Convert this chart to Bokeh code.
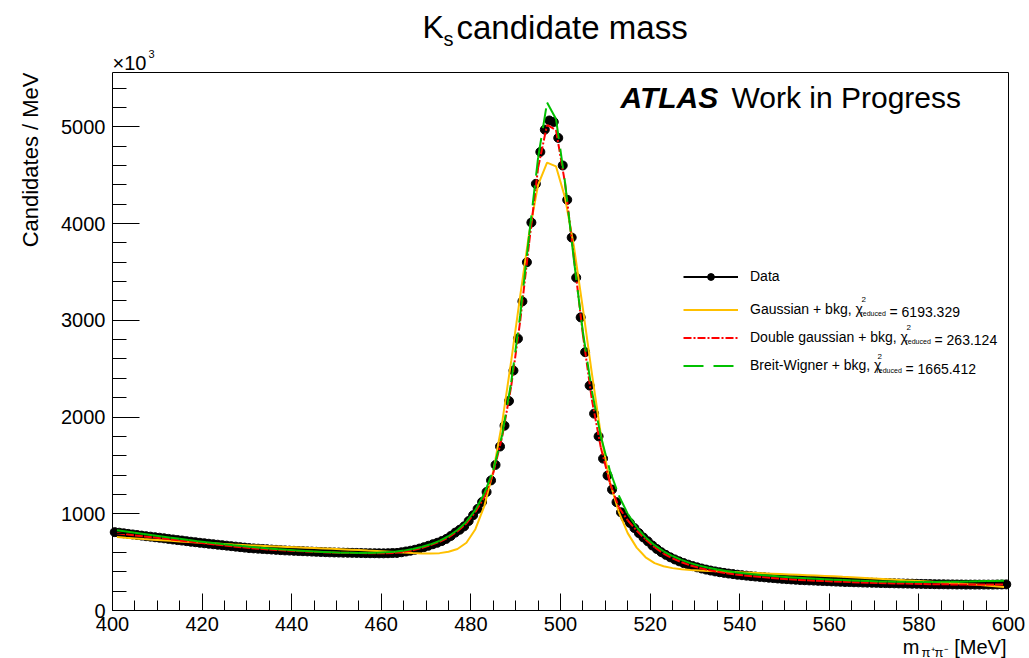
import numpy as np
from bokeh.plotting import figure
from bokeh.models import (Range1d, SingleIntervalTicker, FixedTicker, LinearAxis, Label,
                          Legend, LegendItem, ColumnDataSource)
from bokeh.embed import file_html
from bokeh.resources import INLINE

# ---------------- data ----------------
X_LO, X_HI = 400.0, 600.0
Y_LO, Y_HI = 0.0, 5561.0

bin_centers = np.arange(400.5, 600.0, 1.0)          # 1 MeV bins
data_counts = [                                     # candidates / MeV  (x10^3)
    810, 804, 798, 792, 786, 780, 774, 768, 763, 757,
    752, 746, 740, 734, 728, 723, 717, 711, 706, 700,
    695, 690, 685, 680, 675, 670, 665, 660, 655, 650,
    645, 642, 639, 636, 633, 630, 627, 624, 621, 619,
    617, 615, 613, 611, 609, 607, 605, 603, 601, 600,
    599, 598, 597, 596, 595, 594, 593, 592, 592, 591,
    591, 592, 594, 595, 602, 610, 618, 628, 640, 654,
    669, 685, 700, 718, 740, 770, 805, 835, 870, 925,
    985, 1050, 1122, 1225, 1345, 1505, 1695, 1910, 2165, 2480,
    2810, 3195, 3600, 4010, 4410, 4740, 4970, 5065, 5050, 4885,
    4600, 4245, 3855, 3440, 3030, 2670, 2325, 2035, 1800, 1570,
    1395, 1250, 1120, 1015, 960, 905, 852, 800, 755, 715,
    672, 636, 603, 575, 550, 528, 508, 490, 474, 459,
    446, 434, 423, 413, 404, 396, 389, 382, 376, 370,
    365, 360, 355, 351, 347, 343, 339, 335, 331, 327,
    324, 321, 318, 315, 313, 311, 309, 307, 305, 303,
    301, 299, 297, 295, 294, 292, 291, 289, 288, 287,
    286, 284, 283, 282, 281, 280, 279, 278, 277, 276,
    275, 274, 273, 272, 271, 271, 270, 270, 269, 269,
    268, 268, 268, 268, 268, 268, 268, 269, 269, 270,
]

curve_x = np.arange(401.0, 600.0, 2.0)               # fit functions sampled every 2 MeV
gauss_fit = [
    760, 752, 745, 738, 732, 726, 720, 714, 708, 703,
    697, 692, 687, 682, 678, 673, 669, 665, 661, 657,
    653, 649, 645, 641, 637, 633, 629, 625, 620, 616,
    611, 605, 599, 594, 590, 589, 593, 607, 636, 700,
    840, 1080, 1440, 1950, 2580, 3250, 3900, 4400, 4630, 4590,
    4270, 3760, 3120, 2450, 1820, 1330, 1020, 800, 650, 550,
    490, 457, 438, 427, 419, 414, 409, 405, 401, 397,
    393, 389, 385, 381, 377, 373, 369, 365, 361, 357,
    353, 348, 344, 339, 334, 329, 324, 319, 313, 308,
    302, 296, 290, 284, 278, 271, 265, 258, 251, 244,
]
dgauss_fit = [
    798, 787, 776, 766, 756, 746, 735, 724, 713, 702,
    692, 682, 672, 662, 653, 644, 637, 631, 625, 620,
    615, 611, 607, 603, 600, 598, 596, 594, 592, 591,
    592, 596, 606, 622, 646, 677, 709, 755, 820, 900,
    1018, 1172, 1420, 1800, 2320, 2990, 3800, 4575, 5020, 4965,
    4420, 3645, 2850, 2180, 1685, 1322, 1068, 932, 826, 735,
    654, 589, 539, 499, 466, 440, 418, 400, 385, 373,
    362, 353, 345, 337, 329, 322, 316, 312, 308, 304,
    300, 296, 293, 290, 287, 285, 282, 280, 278, 276,
    274, 272, 271, 270, 269, 268, 268, 268, 268, 269,
]
bw_fit = [
    830, 817, 804, 791, 778, 765, 753, 741, 729, 717,
    706, 695, 685, 675, 666, 657, 649, 641, 634, 627,
    621, 615, 610, 605, 601, 598, 596, 595, 595, 597,
    601, 608, 619, 635, 656, 684, 720, 768, 832, 918,
    1040, 1210, 1450, 1820, 2360, 3050, 3880, 4680, 5250, 5080,
    4430, 3620, 2880, 2270, 1800, 1450, 1190, 1000, 860, 755,
    675, 612, 563, 523, 490, 464, 442, 424, 409, 396,
    385, 375, 366, 358, 351, 344, 338, 333, 328, 323,
    319, 315, 311, 307, 304, 301, 299, 297, 296, 295,
    295, 295, 296, 297, 298, 300, 302, 304, 306, 308,
]

legend_labels = ["Data", "Gaussian + bkg, \u03c7", "Double gaussian + bkg, \u03c7", "Breit-Wigner + bkg, \u03c7"]
chi2_values = ["= 6193.329", "= 263.124", "= 1665.412"]

# ---------------- layout ----------------
W, H = 1029, 658
FL, FR, FT, FB = 112, 1008, 72, 610        # visible axes box in page pixels
FONT = "Liberation Sans"
UX = (X_HI - X_LO) / (FR - FL)             # data units per pixel
UY = (Y_HI - Y_LO) / (FB - FT)


def px2x(px):
    return X_LO + (px - FL) * UX


def px2y(py):
    return Y_LO + (FB - py) * UY


# the drawing frame covers the whole page; the visible axes box is made of axes at fixed locations
p = figure(width=W, height=H, output_backend="svg", toolbar_location=None,
           x_range=Range1d(px2x(0), px2x(W)), y_range=Range1d(px2y(H), px2y(0)),
           x_axis_location=None, y_axis_location=None,
           min_border_left=0, min_border_right=0, min_border_top=0, min_border_bottom=0)
p.background_fill_color = "white"
p.border_fill_color = "white"
p.outline_line_color = None
p.xgrid.visible = False
p.ygrid.visible = False


def style_axis(ax, mj, mn):
    ax.major_tick_in = mj
    ax.major_tick_out = 0
    ax.minor_tick_in = mn
    ax.minor_tick_out = 0
    ax.axis_line_color = "black"
    ax.axis_line_width = 1
    ax.major_tick_line_color = "black"
    ax.minor_tick_line_color = "black"
    ax.major_label_text_font = FONT
    ax.major_label_text_font_size = "20px"
    ax.major_label_text_color = "black"


xax = LinearAxis(ticker=SingleIntervalTicker(interval=20, num_minor_ticks=4),
                 fixed_location=Y_LO, bounds=(X_LO, X_HI), major_label_standoff=6)
style_axis(xax, 17, 10)
yax = LinearAxis(ticker=SingleIntervalTicker(interval=1000, num_minor_ticks=5),
                 fixed_location=X_LO, bounds=(Y_LO, Y_HI), major_label_standoff=7)
style_axis(yax, 27, 14)
tax = LinearAxis(ticker=FixedTicker(ticks=[]), fixed_location=Y_HI, bounds=(X_LO, X_HI))
style_axis(tax, 0, 0)
rax = LinearAxis(ticker=FixedTicker(ticks=[]), fixed_location=X_HI, bounds=(Y_LO, Y_HI))
style_axis(rax, 0, 0)
p.add_layout(xax, "below")
p.add_layout(yax, "left")
p.add_layout(tax, "above")
p.add_layout(rax, "right")

# ---------------- data & fits ----------------
src = ColumnDataSource(dict(x=bin_centers, y=data_counts,
                            x0=bin_centers - 0.5, x1=bin_centers + 0.5))
data_bar = p.segment(x0="x0", y0="y", x1="x1", y1="y", source=src,
                     line_color="black", line_width=2)
data_pt = p.scatter(x="x", y="y", source=src, marker="circle", size=9,
                    fill_color="black", line_color="black")

cx = np.asarray(curve_x)
g = np.asarray(gauss_fit)
dg = np.asarray(dgauss_fit)
bw = np.asarray(bw_fit)

yel = p.line(cx, g, line_color="#FFC000", line_width=2)
red = p.segment(x0=cx[:-1], y0=dg[:-1], x1=cx[1:], y1=dg[1:],
                line_color="#FF0000", line_width=2, line_dash="8 2 2 2")
grn = p.segment(x0=cx[:-1], y0=bw[:-1], x1=cx[1:], y1=bw[1:],
                line_color="#00C000", line_width=2, line_dash="20 10")

# ---------------- legends ----------------
common = dict(background_fill_alpha=0, border_line_alpha=0, padding=0, margin=0,
              glyph_width=55, label_height=21, label_standoff=12,
              label_text_font=FONT, label_text_font_size="14px", label_text_color="black")
leg_data = Legend(items=[LegendItem(label=legend_labels[0], renderers=[data_bar, data_pt])],
                  location=(683, H - 286.5), spacing=7, glyph_height=17, **common)
leg_fit = Legend(items=[LegendItem(label=legend_labels[1], renderers=[yel]),
                        LegendItem(label=legend_labels[2], renderers=[red]),
                        LegendItem(label=legend_labels[3], renderers=[grn])],
                 location=(683, H - 375.5), spacing=7, glyph_height=7, **common)
p.add_layout(leg_data)
p.add_layout(leg_fit)


def add_text(txt, cxp, cyp, size, align="left", style="normal", angle=0.0):
    """cyp is the vertical middle of the text line, in page pixels."""
    p.add_layout(Label(x=px2x(cxp), y=px2y(cyp), x_units="data", y_units="data", text=txt,
                       text_font=FONT, text_font_size=f"{size}px", text_font_style=style,
                       text_align=align, text_baseline="middle", text_color="black",
                       angle=angle))


# chi2 decorations in legend rows
rows = [(311, 860, 889), (339, 905, 934), (368, 876, 905)]
for (mid, sx, ex), val in zip(rows, chi2_values):
    add_text("2", sx + 1, mid - 12, 8)
    add_text("reduced", sx, mid + 1.5, 7)
    add_text(val, ex, mid, 14)

# titles and texts
add_text("K", 422, 26.5, 32)
add_text("s", 443, 38, 20)
add_text("candidate mass", 456, 26.5, 33)
add_text("ATLAS", 620, 96.5, 30, style="bold italic")
add_text("Work in Progress", 731, 96.5, 30)
add_text("\u00d710", 112, 62.5, 20)
add_text("3", 148, 53, 11)
add_text("[MeV]", 1006, 646, 20, align="right")
add_text("\u03c0\u207a\u03c0\u207b", 947, 651.5, 13, align="right")
add_text("m", 919, 646, 20, align="right")
add_text("Candidates / MeV", 30, 72, 22, align="right", angle=np.pi / 2)

open("out.html", "w").write(file_html(p, INLINE))
